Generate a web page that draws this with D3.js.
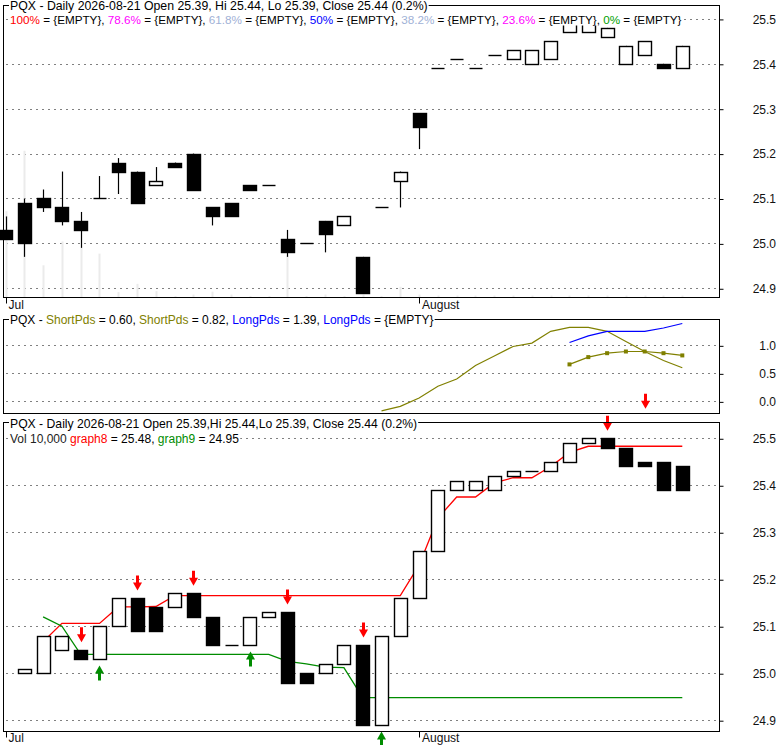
<!DOCTYPE html>
<html>
<head>
<meta charset="utf-8">
<script src="https://cdn.jsdelivr.net/npm/d3@7"></script>
<style>
body { margin: 0; background: #fff; }
svg { font-family: Arial, "Liberation Sans", sans-serif; }
</style>
</head>
<body>
<svg width="780" height="745"></svg>
<script>
// trading days shown on the chart
var dates = ['2026-07-01','2026-07-02','2026-07-06','2026-07-07','2026-07-08','2026-07-09','2026-07-10',
  '2026-07-13','2026-07-14','2026-07-15','2026-07-16','2026-07-17','2026-07-20','2026-07-21','2026-07-22',
  '2026-07-23','2026-07-24','2026-07-27','2026-07-28','2026-07-29','2026-07-30','2026-07-31',
  '2026-08-03','2026-08-04','2026-08-05','2026-08-06','2026-08-07','2026-08-10','2026-08-11','2026-08-12',
  '2026-08-13','2026-08-14','2026-08-17','2026-08-18','2026-08-19','2026-08-20','2026-08-21'];

// upper panel: daily candles
var priceOpen  = [25.03,25.09,25.10,25.08,25.05,25.10,25.18,25.16,25.13,25.18,25.20,25.08,25.09,25.13,25.13,25.01,25.00,25.05,25.04,24.97,25.08,25.14,25.29,25.39,25.41,25.39,25.42,25.41,25.40,25.41,25.47,25.47,25.46,25.40,25.42,25.40,25.39];
var priceHigh  = [25.06,25.10,25.12,25.16,25.07,25.15,25.19,25.16,25.17,25.18,25.20,25.08,25.09,25.13,25.13,25.03,25.00,25.05,25.06,24.97,25.08,25.16,25.29,25.39,25.41,25.39,25.42,25.43,25.43,25.45,25.49,25.49,25.48,25.44,25.45,25.40,25.44];
var priceLow   = [25.01,24.97,25.07,25.04,24.99,25.10,25.11,25.09,25.13,25.17,25.12,25.04,25.06,25.12,25.13,24.97,25.00,24.98,25.04,24.89,25.08,25.08,25.21,25.39,25.41,25.39,25.42,25.41,25.40,25.41,25.47,25.47,25.46,25.40,25.42,25.39,25.39];
var priceClose = [25.01,25.00,25.08,25.05,25.03,25.10,25.16,25.09,25.14,25.17,25.12,25.06,25.06,25.12,25.13,24.98,25.00,25.02,25.06,24.89,25.08,25.16,25.26,25.39,25.41,25.39,25.42,25.43,25.43,25.45,25.49,25.49,25.48,25.44,25.45,25.39,25.44];
var volume = [17700,30100,6600,11500,10200,9000,1100,2800,1300,300,600,1200,600,300,300,8600,300,600,300,600,300,2200,600,400,400,400,400,400,400,400,400,400,400,400,400,400,400];

// middle panel: oscillator
var shortPdsA = [null,null,null,null,null,null,null,null,null,null,null,null,null,null,null,null,null,null,null,null,
  -0.17,-0.09,0.06,0.27,0.40,0.64,0.81,0.98,1.04,1.25,1.32,1.32,1.25,1.07,0.89,0.73,0.60];
var shortPdsB = [null,null,null,null,null,null,null,null,null,null,null,null,null,null,null,null,null,null,null,null,
  null,null,null,null,null,null,null,null,null,null,0.66,0.79,0.86,0.89,0.89,0.86,0.82];
var longPdsA = [null,null,null,null,null,null,null,null,null,null,null,null,null,null,null,null,null,null,null,null,
  null,null,null,null,null,null,null,null,null,null,1.05,1.17,1.25,1.25,1.25,1.31,1.39];
var oscSell = [34];
var oscSellLevel = -0.13;

// lower panel: open/close boxes with the two trailing lines
var lowerOpen  = [null,25.00,25.00,25.05,25.05,25.03,25.10,25.16,25.14,25.14,25.17,25.12,25.06,25.06,25.12,25.13,25.00,25.00,25.02,25.06,24.89,25.08,25.16,25.26,25.39,25.39,25.39,25.42,25.43,25.43,25.45,25.49,25.50,25.48,25.45,25.45,25.44];
var lowerClose = [null,25.01,25.08,25.08,25.03,25.10,25.16,25.09,25.09,25.17,25.12,25.06,25.06,25.12,25.13,24.98,24.98,25.02,25.06,24.89,25.08,25.16,25.26,25.39,25.41,25.41,25.42,25.43,25.43,25.45,25.49,25.50,25.48,25.44,25.44,25.39,25.39];
var graph8 = [null,null,25.067,25.106,25.106,25.106,25.141,25.141,25.142,25.165,25.165,25.165,25.165,25.165,25.165,25.165,25.165,25.165,25.165,25.165,25.165,25.165,
  25.23,25.33,25.375,25.375,25.405,25.416,25.416,25.44,25.47,25.483,25.483,25.483,25.483,25.483,25.483];
var graph9 = [null,null,25.12,25.10,25.04,25.04,25.04,25.04,25.04,25.04,25.04,25.04,25.04,25.04,25.04,25.025,25.02,25.013,25.012,
  24.948,24.948,24.948,24.948,24.948,24.948,24.948,24.948,24.948,24.948,24.948,24.948,24.948,24.948,24.948,24.948,24.948,24.948];
var sellSignals = [4,7,10,15,19,32];
var buySignals = [5,13,20];

var priceTicks = [24.9,25.0,25.1,25.2,25.3,25.4,25.5];
var oscTicks = [0.0,0.5,1.0];
var monthTicks = ['2026-07-01','2026-08-03'];
var monthLabels = ['Jul','August'];

var svg = d3.select('svg');
var left = 3.5, right = 719.5;
var bodyHalf = 6.5;

var x = d3.scalePoint().domain(dates).range([5.5, 682.3]);
var yPrice = d3.scaleLinear().domain([24.879, 25.531]).range([297.7, 5]);
var yVol = d3.scaleLinear().domain([0, 60000]).range([297.5, 5]);
var yOsc = d3.scaleLinear().domain([-0.22, 1.47]).range([413.7, 319]);
var yLower = d3.scaleLinear().domain([24.877, 25.534]).range([731, 422.3]);

var priceBox = {top: 5.5, bottom: 297.5};
var oscBox = {top: 319.5, bottom: 413.5};
var lowerBox = {top: 422.5, bottom: 731.5};

function idx(n) { return d3.range(n); }

// dotted gridlines plus right-side tick labels
function grid(yScale, ticks, fmt) {
    var g = svg.append('g');
    g.selectAll('.grid').data(ticks).enter().append('line')
        .attr('x1', left + 3).attr('x2', right - 2)
        .attr('y1', function(d) { return Math.round(yScale(d)) + 0.5; })
        .attr('y2', function(d) { return Math.round(yScale(d)) + 0.5; })
        .attr('stroke', '#000').attr('stroke-dasharray', '1,5');
    var axis = d3.axisRight(yScale).tickValues(ticks).tickSize(4).tickFormat(d3.format(fmt));
    var a = svg.append('g').attr('transform', 'translate(' + right + ',0.5)').call(axis);
    a.select('.domain').remove();
    a.selectAll('.tick line').attr('stroke', '#000');
    a.selectAll('.tick text').attr('x', 56.5).attr('text-anchor', 'end')
        .attr('font-size', '12px').attr('fill', '#111').attr('font-family', 'Arial, "Liberation Sans", sans-serif');
}

function frame(box) {
    svg.append('rect').attr('x', left).attr('y', box.top)
        .attr('width', right - left).attr('height', box.bottom - box.top)
        .attr('fill', 'none').attr('stroke', '#000').attr('stroke-width', 1);
}

function months(box, labelY) {
    var g = svg.append('g');
    g.selectAll('line').data(monthTicks).enter().append('line')
        .attr('x1', function(d) { return Math.round(x(d)) + 0.5; })
        .attr('x2', function(d) { return Math.round(x(d)) + 0.5; })
        .attr('y1', box.bottom).attr('y2', box.bottom + 6)
        .attr('stroke', '#000');
    g.selectAll('text').data(monthTicks).enter().append('text')
        .attr('x', function(d) { return x(d) + 3; })
        .attr('y', labelY)
        .attr('font-size', '12px').attr('fill', '#111')
        .text(function(d, i) { return monthLabels[i]; });
}

function legend(lx, ly, size, parts) {
    var g = svg.append('g');
    var bg = g.append('rect').attr('fill', '#fff');
    var t = g.append('text').attr('x', lx).attr('y', ly).attr('font-size', size + 'px');
    parts.forEach(function(p) {
        t.append('tspan').attr('fill', p[1]).text(p[0]);
    });
    var bb = t.node().getBBox();
    bg.attr('x', bb.x - 1).attr('y', bb.y).attr('width', bb.width + 2).attr('height', bb.height);
}

// bodies for open/close arrays
function bodies(g, openArr, closeArr, yScale) {
    var data = idx(dates.length).filter(function(i) { return openArr[i] !== null; });
    var flat = data.filter(function(i) { return Math.abs(openArr[i] - closeArr[i]) < 0.0005; });
    var boxes = data.filter(function(i) { return Math.abs(openArr[i] - closeArr[i]) >= 0.0005; });
    g.selectAll('.body').data(boxes).enter().append('rect')
        .attr('x', function(i) { return Math.round(x(dates[i]) - bodyHalf) + 0.5; })
        .attr('width', bodyHalf * 2)
        .attr('y', function(i) { return Math.round(yScale(Math.max(openArr[i], closeArr[i]))) + 0.5; })
        .attr('height', function(i) {
            return Math.max(1, Math.round(yScale(Math.min(openArr[i], closeArr[i]))) - Math.round(yScale(Math.max(openArr[i], closeArr[i]))));
        })
        .attr('fill', function(i) { return closeArr[i] < openArr[i] ? '#000' : '#fff'; })
        .attr('stroke', '#000').attr('stroke-width', 1.4);
    g.selectAll('.flat').data(flat).enter().append('line')
        .attr('x1', function(i) { return Math.round(x(dates[i]) - bodyHalf) + 0.5; })
        .attr('x2', function(i) { return Math.round(x(dates[i]) + bodyHalf) + 0.5; })
        .attr('y1', function(i) { return Math.round(yScale(closeArr[i])) + 0.5; })
        .attr('y2', function(i) { return Math.round(yScale(closeArr[i])) + 0.5; })
        .attr('stroke', '#000').attr('stroke-width', 1.4);
}

// ---------- upper panel ----------
grid(yPrice, priceTicks, '.1f');

svg.append('g').selectAll('rect').data(idx(dates.length)).enter().append('rect')
    .attr('x', function(i) { return Math.round(x(dates[i])) - 0.5; })
    .attr('width', 2)
    .attr('y', function(i) { return yVol(volume[i]); })
    .attr('height', function(i) { return yVol(0) - yVol(volume[i]); })
    .attr('fill', '#ebebeb');

var candles = svg.append('g');
candles.selectAll('.wick').data(idx(dates.length)).enter().append('line')
    .attr('x1', function(i) { return Math.round(x(dates[i])) + 0.5; })
    .attr('x2', function(i) { return Math.round(x(dates[i])) + 0.5; })
    .attr('y1', function(i) { return yPrice(priceHigh[i]); })
    .attr('y2', function(i) { return yPrice(priceLow[i]); })
    .attr('stroke', '#000').attr('stroke-width', 1.2);
bodies(candles, priceOpen, priceClose, yPrice);

months(priceBox, 309);
frame(priceBox);

legend(10, 23.5, 11.7, [['100%', '#ff0000'], [' = {EMPTY}, ', '#000'], ['78.6%', '#ff00ff'], [' = {EMPTY}, ', '#000'],
    ['61.8%', '#9fb1d6'], [' = {EMPTY}, ', '#000'], ['50%', '#0000ff'], [' = {EMPTY}, ', '#000'],
    ['38.2%', '#9fb1d6'], [' = {EMPTY}, ', '#000'], ['23.6%', '#ff00ff'], [' = {EMPTY}, ', '#000'],
    ['0%', '#00a000'], [' = {EMPTY}', '#000']]);
legend(10, 9.5, 12.3, [['PQX - Daily 2026-08-21 Open 25.39, Hi 25.44, Lo 25.39, Close 25.44 (0.2%)', '#000']]);

// ---------- middle panel ----------
grid(yOsc, oscTicks, '.1f');

var oscLine = d3.line()
    .defined(function(d) { return d[1] !== null; })
    .x(function(d) { return x(dates[d[0]]); })
    .y(function(d) { return yOsc(d[1]); });

function pairs(arr) { return arr.map(function(v, i) { return [i, v]; }); }

svg.append('path').datum(pairs(shortPdsA)).attr('d', oscLine)
    .attr('fill', 'none').attr('stroke', '#808000').attr('stroke-width', 1.2);
svg.append('path').datum(pairs(longPdsA)).attr('d', oscLine)
    .attr('fill', 'none').attr('stroke', '#0000ff').attr('stroke-width', 1.2);
svg.append('path').datum(pairs(shortPdsB)).attr('d', oscLine)
    .attr('fill', 'none').attr('stroke', '#808000').attr('stroke-width', 1.2);
svg.append('g').selectAll('rect').data(pairs(shortPdsB).filter(function(d) { return d[1] !== null; }))
    .enter().append('rect')
    .attr('x', function(d) { return x(dates[d[0]]) - 2; })
    .attr('y', function(d) { return yOsc(d[1]) - 2; })
    .attr('width', 4).attr('height', 4).attr('fill', '#808000');

function arrowDown(g, cx, tipY, color) {
    g.append('path')
        .attr('d', 'M' + (cx - 1.5) + ',' + (tipY - 15) + 'H' + (cx + 1.5) + 'V' + (tipY - 8) + 'H' + (cx + 4.5) +
            'L' + cx + ',' + tipY + 'L' + (cx - 4.5) + ',' + (tipY - 8) + 'H' + (cx - 1.5) + 'Z')
        .attr('fill', color);
}
function arrowUp(g, cx, tipY, color) {
    g.append('path')
        .attr('d', 'M' + (cx - 1.5) + ',' + (tipY + 15) + 'H' + (cx + 1.5) + 'V' + (tipY + 8) + 'H' + (cx + 4.5) +
            'L' + cx + ',' + tipY + 'L' + (cx - 4.5) + ',' + (tipY + 8) + 'H' + (cx - 1.5) + 'Z')
        .attr('fill', color);
}

var oscArrows = svg.append('g');
oscSell.forEach(function(i) { arrowDown(oscArrows, Math.round(x(dates[i])) + 0.5, yOsc(oscSellLevel), '#ff0000'); });

frame(oscBox);
legend(10, 324, 12, [['PQX - ', '#000'], ['ShortPds', '#808000'], [' = 0.60, ', '#000'], ['ShortPds', '#808000'],
    [' = 0.82, ', '#000'], ['LongPds', '#0000ff'], [' = 1.39, ', '#000'], ['LongPds', '#0000ff'], [' = {EMPTY}', '#000']]);

// ---------- lower panel ----------
grid(yLower, priceTicks, '.1f');

var trail = d3.line()
    .defined(function(d) { return d[1] !== null; })
    .x(function(d) { return x(dates[d[0]]); })
    .y(function(d) { return yLower(d[1]); });
svg.append('path').datum(pairs(graph8)).attr('d', trail)
    .attr('fill', 'none').attr('stroke', '#ff0000').attr('stroke-width', 1.3);
svg.append('path').datum(pairs(graph9)).attr('d', trail)
    .attr('fill', 'none').attr('stroke', '#008c00').attr('stroke-width', 1.3);

var lowerCandles = svg.append('g');
bodies(lowerCandles, lowerOpen, lowerClose, yLower);

var signals = svg.append('g');
sellSignals.forEach(function(i) {
    arrowDown(signals, Math.round(x(dates[i])) + 0.5, yLower(Math.max(lowerOpen[i], lowerClose[i])) - 7.5, '#ff0000');
});
buySignals.forEach(function(i) {
    arrowUp(signals, Math.round(x(dates[i])) + 0.5, yLower(Math.min(lowerOpen[i], lowerClose[i])) + 6.5, '#008c00');
});

months(lowerBox, 742);
frame(lowerBox);

legend(10, 442.5, 12, [['Vol 10,000 ', '#222'], ['graph8', '#ff0000'], [' = 25.48, ', '#000'], ['graph9', '#008c00'], [' = 24.95', '#000']]);
legend(10, 428, 12.2, [['PQX - Daily 2026-08-21 Open 25.39,Hi 25.44,Lo 25.39, Close 25.44 (0.2%)', '#000']]);
</script>
</body>
</html>
